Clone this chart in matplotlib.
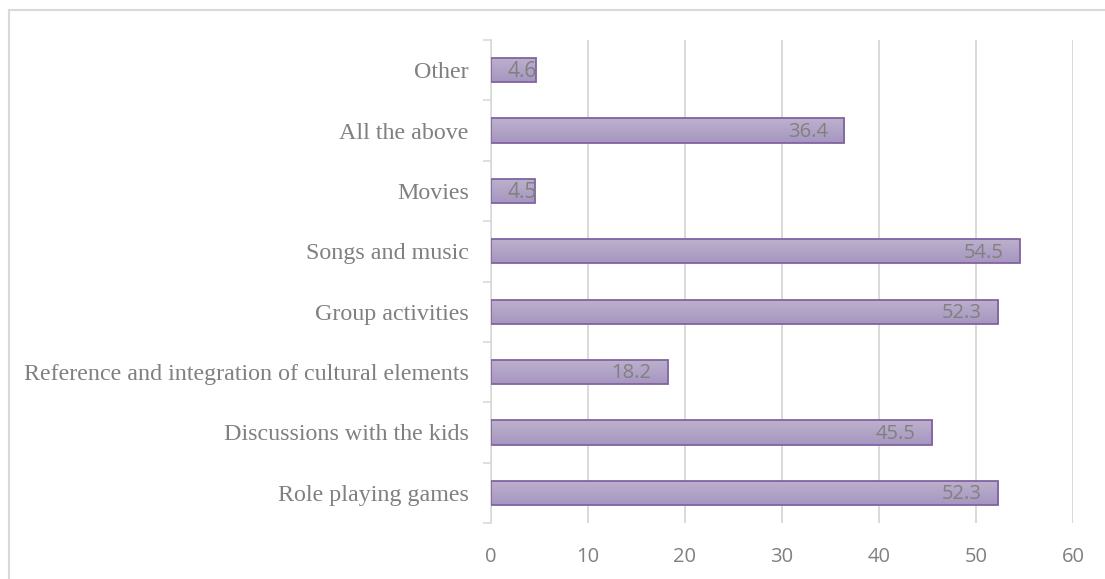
import matplotlib
matplotlib.use("Agg")
import matplotlib.pyplot as plt
import numpy as np
from matplotlib.lines import Line2D
from matplotlib.colors import LinearSegmentedColormap

categories = [
    "Role playing games",
    "Discussions with the kids",
    "Reference and integration of cultural elements",
    "Group activities",
    "Songs and music",
    "Movies",
    "All the above",
    "Other",
]
values = [52.3, 45.5, 18.2, 52.3, 54.5, 4.5, 36.4, 4.6]
x_ticks = [0, 10, 20, 30, 40, 50, 60]

W, H = 1105, 579
fig = plt.figure(figsize=(W / 100, H / 100), dpi=100)
ax = fig.add_axes([491 / W, 1 - 523 / H, (1073 - 491) / W, (523 - 40) / H])

grey_text = "#808080"
grid_col = "#d9d9d9"
edge_col = "#8064a2"
bar_h = 0.4

ypos = np.arange(len(categories))
bars = ax.barh(ypos, values, height=bar_h, color="none", edgecolor=edge_col,
               linewidth=1.3, zorder=3)

# vertical gradient fill inside each bar
cmap = LinearSegmentedColormap.from_list("purp", ["#bdb1cd", "#a696c0"])
grad = np.linspace(0, 1, 64).reshape(-1, 1)
for b in bars:
    x0, y0 = b.get_x(), b.get_y()
    w, h = b.get_width(), b.get_height()
    im = ax.imshow(grad, cmap=cmap, aspect="auto", origin="upper",
                   extent=(x0, x0 + w, y0, y0 + h), zorder=2)
    im.set_clip_path(b)

# value labels at the inside end; short bars clip their label
for b, v in zip(bars, values):
    yc = b.get_y() + b.get_height() / 2 - 0.02
    if v < 10:
        t = ax.text(1.65, yc, f"{v}", ha="left", va="center", fontsize=15,
                    color=grey_text, family="Open Sans", zorder=4)
        t.set_clip_path(b)
    else:
        ax.text(v - 1.7, yc, f"{v}", ha="right", va="center", fontsize=14.5,
                color=grey_text, family="Open Sans", zorder=4)

ax.set_xlim(0, 60)
ax.set_ylim(-0.5, len(categories) - 0.5)
ax.set_xticks(x_ticks)
ax.set_xticklabels([str(t) for t in x_ticks], family="Open Sans", fontsize=14.5,
                   color=grey_text)
ax.tick_params(axis="x", length=0, pad=17)

ax.set_yticks(ypos)
ax.set_yticklabels(categories, family="Liberation Serif", fontsize=17.3,
                   color=grey_text)
ax.tick_params(axis="y", which="major", length=0, pad=16)
ax.set_yticks(np.arange(-0.5, len(categories), 1.0), minor=True)
ax.tick_params(axis="y", which="minor", length=5.5, width=1.2, color=grid_col)

ax.grid(axis="x", color=grid_col, linewidth=1.4, zorder=0)
ax.set_axisbelow(True)
for s in ["top", "right", "bottom"]:
    ax.spines[s].set_visible(False)
ax.spines["left"].set_color(grid_col)
ax.spines["left"].set_linewidth(1.2)

# outer chart frame
fig.add_artist(Line2D([8.5 / W, 8.5 / W], [0, 1 - 10 / H], color=grid_col,
                      linewidth=1.5, transform=fig.transFigure))
fig.add_artist(Line2D([8.5 / W, 1], [1 - 10 / H, 1 - 10 / H], color=grid_col,
                      linewidth=1.5, transform=fig.transFigure))

fig.savefig("out.png", dpi=100)
